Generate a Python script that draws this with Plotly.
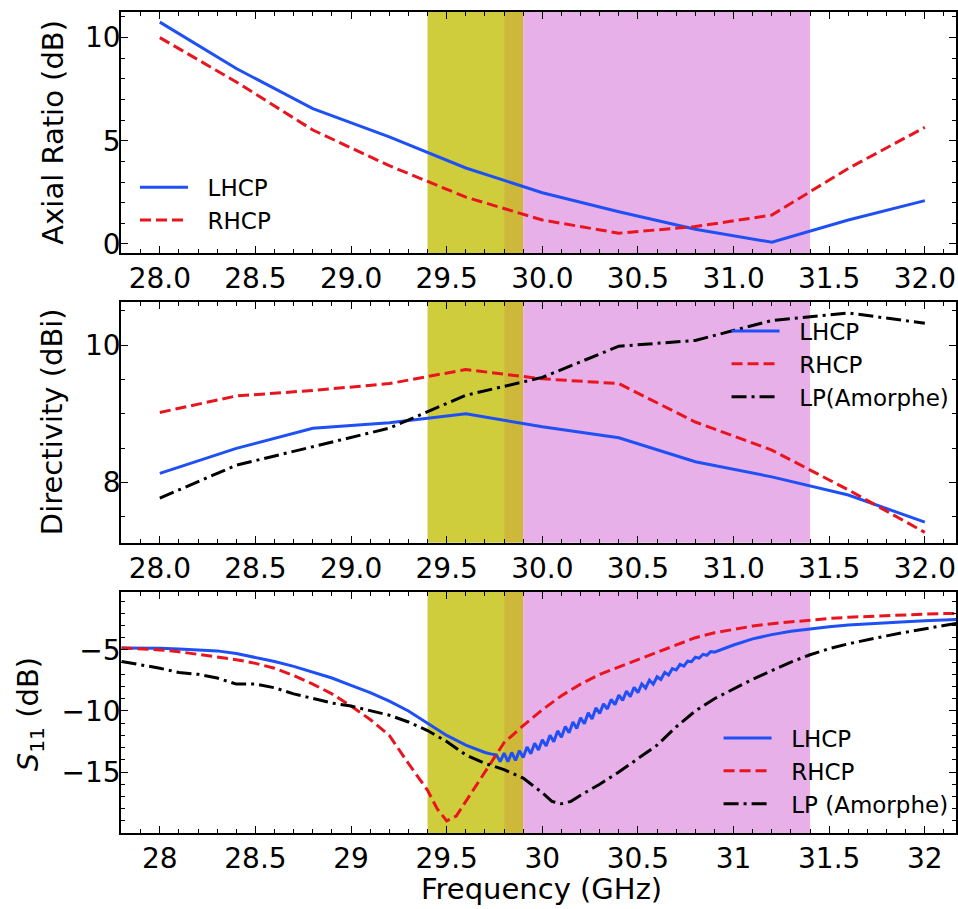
import plotly.graph_objects as go

# ---------------- data ----------------
freq_coarse = [28.0, 28.4, 28.8, 29.2, 29.6, 30.0, 30.4, 30.8, 31.2, 31.6, 32.0]

ar_lhcp = [10.75, 8.5, 6.56, 5.19, 3.68, 2.48, 1.56, 0.71, 0.08, 1.16, 2.1]
ar_rhcp = [10.0, 7.85, 5.52, 3.79, 2.27, 1.16, 0.52, 0.84, 1.4, 3.66, 5.65]

dir_lhcp = [8.13, 8.495, 8.79, 8.87, 9.0, 8.81, 8.65, 8.30, 8.08, 7.815, 7.42]
dir_rhcp = [9.02, 9.26, 9.34, 9.44, 9.645, 9.51, 9.44, 8.88, 8.47, 7.89, 7.27]
dir_lp = [7.77, 8.25, 8.52, 8.79, 9.27, 9.53, 9.985, 10.07, 10.36, 10.47, 10.32]

s11_freq_lhcp = [27.8, 27.9, 28.0, 28.1, 28.2, 28.3, 28.4, 28.5, 28.6, 28.7, 28.8, 28.9,
                 29.0, 29.1, 29.2, 29.3, 29.4, 29.5, 29.6, 29.7, 29.74,
                 29.76, 29.78, 29.80, 29.82, 29.84, 29.86, 29.88, 29.90, 29.92, 29.94,
                 29.96, 29.98, 30.00, 30.02, 30.04, 30.06, 30.08, 30.10, 30.12, 30.14,
                 30.16, 30.18, 30.20, 30.22, 30.24, 30.26, 30.28, 30.30, 30.32, 30.34,
                 30.36, 30.38, 30.40, 30.42, 30.44, 30.46, 30.48, 30.50, 30.52, 30.54,
                 30.56, 30.58, 30.60, 30.62, 30.64, 30.66, 30.68, 30.70, 30.72, 30.74,
                 30.76, 30.78, 30.80, 30.82, 30.84, 30.86, 30.88, 30.90,
                 31.0, 31.1, 31.2, 31.3, 31.4, 31.5, 31.6, 31.7, 31.8, 31.9, 32.0, 32.1, 32.2]
s11_lhcp = [-4.85, -4.85, -4.87, -4.92, -4.98, -5.08, -5.3, -5.6, -5.95, -6.35, -6.8, -7.3,
            -7.9, -8.5, -9.2, -10.0, -11.0, -12.0, -12.8, -13.4, -13.55,
            -13.6, -14.15, -13.45, -14.15, -13.4, -14.05, -13.25, -13.8, -12.95, -13.5,
            -12.65, -13.2, -12.35, -12.87, -11.99, -12.51, -11.63, -12.15, -11.27, -11.79,
            -10.91, -11.43, -10.55, -11.05, -10.15, -10.65, -9.75, -10.2, -9.42, -9.84,
            -9.06, -9.48, -8.7, -9.14, -8.38, -8.82, -8.06, -8.5, -7.79, -8.13,
            -7.47, -7.81, -7.2, -7.42, -6.84, -7.06, -6.53, -6.65, -6.19, -6.33,
            -5.92, -5.96, -5.6, -5.68, -5.36, -5.44, -5.14, -5.18,
            -4.6, -4.1, -3.75, -3.48, -3.27, -3.1, -2.97, -2.86, -2.77, -2.69, -2.61, -2.54, -2.48]

s11_freq_rhcp = [27.8, 27.9, 28.0, 28.1, 28.2, 28.3, 28.4, 28.5, 28.6, 28.7, 28.8, 28.9,
                 29.0, 29.1, 29.2, 29.3, 29.4, 29.45, 29.5, 29.55, 29.6, 29.7, 29.8, 29.9,
                 30.0, 30.1, 30.2, 30.3, 30.4, 30.5, 30.6, 30.7, 30.8, 30.9,
                 31.0, 31.1, 31.2, 31.3, 31.4, 31.5, 31.6, 31.7, 31.8, 31.9, 32.0, 32.1, 32.2]
s11_rhcp = [-4.85, -4.9, -5.0, -5.15, -5.35, -5.6, -5.8, -6.1, -6.5, -7.1, -7.8, -8.6,
            -9.6, -10.7, -12.0, -14.3, -16.5, -18.0, -19.0, -18.6, -17.4, -15.0, -12.6, -11.2,
            -9.9, -8.75, -7.8, -7.0, -6.4, -5.8, -5.2, -4.55, -4.0, -3.6,
            -3.3, -3.05, -2.85, -2.7, -2.55, -2.43, -2.33, -2.25, -2.18, -2.12, -2.07, -2.03, -2.0]

s11_freq_lp = [27.8, 27.9, 28.0, 28.1, 28.2, 28.3, 28.4, 28.5, 28.6, 28.7, 28.8, 28.9,
               29.0, 29.1, 29.2, 29.3, 29.4, 29.5, 29.6, 29.7, 29.8, 29.9, 30.0, 30.05,
               30.1, 30.15, 30.2, 30.3, 30.4, 30.5, 30.6, 30.7, 30.8, 30.9,
               31.0, 31.1, 31.2, 31.3, 31.4, 31.5, 31.6, 31.7, 31.8, 31.9, 32.0, 32.1, 32.2]
s11_lp = [-5.95, -6.2, -6.5, -6.85, -7.0, -7.3, -7.8, -7.8, -8.1, -8.6, -9.0, -9.35,
          -9.6, -9.95, -10.35, -10.9, -11.6, -12.5, -13.6, -14.3, -14.8, -15.5, -16.7, -17.4,
          -17.6, -17.4, -16.9, -16.0, -15.0, -13.9, -12.8, -11.3, -10.0, -9.0,
          -8.2, -7.4, -6.7, -6.0, -5.4, -4.9, -4.5, -4.15, -3.85, -3.55, -3.25, -3.0, -2.75]

band_yellow = [29.4, 29.8]
band_overlap = [29.8, 29.9]
band_pink = [29.9, 31.4]

x_tickvals = [28.0, 28.5, 29.0, 29.5, 30.0, 30.5, 31.0, 31.5, 32.0]
x_ticktext_top = ["28.0", "28.5", "29.0", "29.5", "30.0", "30.5", "31.0", "31.5", "32.0"]
x_ticktext_bottom = ["28", "28.5", "29", "29.5", "30", "30.5", "31", "31.5", "32"]
ar_ticks = [0, 5, 10]
dir_ticks = [8, 10]
s11_ticks = [-15, -10, -5]

# ---------------- style ----------------
FONT = "DejaVu Sans"
BLUE = "#1f50f5"
RED = "#e8141e"
BLACK = "#000000"
W, H = 958, 909
TOP, BOT = 12, 833
PH = BOT - TOP
LEFT = 121
PW = W - LEFT
NB = "\u00a0\u00a0"  # spacing between legend sample and label


def ydom(top_px, bot_px):
    return [(BOT - bot_px) / PH, (BOT - top_px) / PH]


fig = go.Figure()

solid = dict(color=BLUE, width=3)
dashed = dict(color=RED, width=3, dash="11px,5px")
dashdot = dict(color=BLACK, width=3, dash="15px,5px,3px,5px")

# panel 1
fig.add_trace(go.Scatter(x=freq_coarse, y=ar_lhcp, mode="lines", name=NB + "LHCP", line=solid,
                         xaxis="x", yaxis="y", legend="legend"))
fig.add_trace(go.Scatter(x=freq_coarse, y=ar_rhcp, mode="lines", name=NB + "RHCP", line=dashed,
                         xaxis="x", yaxis="y", legend="legend"))
# panel 2
fig.add_trace(go.Scatter(x=freq_coarse, y=dir_lhcp, mode="lines", name=NB + "LHCP", line=solid,
                         xaxis="x2", yaxis="y2", legend="legend2"))
fig.add_trace(go.Scatter(x=freq_coarse, y=dir_rhcp, mode="lines", name=NB + "RHCP", line=dashed,
                         xaxis="x2", yaxis="y2", legend="legend2"))
fig.add_trace(go.Scatter(x=freq_coarse, y=dir_lp, mode="lines", name=NB + "LP(Amorphe)", line=dashdot,
                         xaxis="x2", yaxis="y2", legend="legend2"))
# panel 3
fig.add_trace(go.Scatter(x=s11_freq_lhcp, y=s11_lhcp, mode="lines", name=NB + "LHCP", line=solid,
                         xaxis="x3", yaxis="y3", legend="legend3"))
fig.add_trace(go.Scatter(x=s11_freq_rhcp, y=s11_rhcp, mode="lines", name=NB + "RHCP", line=dashed,
                         xaxis="x3", yaxis="y3", legend="legend3"))
fig.add_trace(go.Scatter(x=s11_freq_lp, y=s11_lp, mode="lines", name=NB + "LP (Amorphe)", line=dashdot,
                         xaxis="x3", yaxis="y3", legend="legend3"))

# shaded bands
shapes = []
for xr, yr in [("x", "y"), ("x2", "y2"), ("x3", "y3")]:
    for band, col in [(band_yellow, "#cfcd3c"), (band_overlap, "#cdb83a"), (band_pink, "#e8b0e8")]:
        shapes.append(dict(type="rect", xref=xr, yref=yr + " domain", x0=band[0], x1=band[1],
                           y0=0, y1=1, fillcolor=col, line=dict(width=0), layer="below"))

XR = [27.797, 32.163]


def xaxis(dom_anchor, ticktext):
    return dict(domain=[0, 1], anchor=dom_anchor, range=XR, showline=True, linecolor="black",
                linewidth=1.5, mirror="ticks", ticks="inside", ticklen=7, tickwidth=1.3,
                tickcolor="black", tickmode="array", tickvals=x_tickvals, ticktext=ticktext,
                minor=dict(ticks="inside", tickmode="linear", tick0=28.0, dtick=0.1, ticklen=4,
                           tickwidth=1.1, tickcolor="black"),
                showgrid=False, zeroline=False,
                tickfont=dict(family=FONT, size=28, color="black"))


def yaxis(dom, anchor, rng, tickvals, minor_dtick, minor_tick0):
    return dict(domain=dom, anchor=anchor, range=rng, showline=True, linecolor="black",
                linewidth=1.5, mirror="ticks", ticks="inside", ticklen=7, tickwidth=1.3,
                tickcolor="black", tickmode="array", tickvals=tickvals,
                minor=dict(ticks="inside", tickmode="linear", tick0=minor_tick0, dtick=minor_dtick,
                           ticklen=4, tickwidth=1.1, tickcolor="black"),
                showgrid=False, zeroline=False, ticklabelstandoff=-7,
                tickfont=dict(family=FONT, size=28, color="black"))


def legend(x_px, y_px):
    return dict(x=(x_px - LEFT) / PW, y=(BOT - y_px) / PH, xanchor="left", yanchor="middle",
                bgcolor="rgba(0,0,0,0)", borderwidth=0,
                font=dict(family=FONT, size=23, color="black"),
                tracegroupgap=0, itemwidth=48)


annotations = [
    dict(text="Axial Ratio (dB)", x=52, y=132.5, textangle=-90),
    dict(text="Directivity (dBi)", x=52, y=422, textangle=-90),
    dict(text="<i>S</i><sub>11</sub> (dB)", x=30, y=714, textangle=-90),
    dict(text="Frequency (GHz)", x=543, y=889, textangle=0),
]
ann_list = []
for a in annotations:
    ann_list.append(dict(text=a["text"], xref="paper", yref="paper",
                         x=(a["x"] - LEFT) / PW, y=(BOT - a["y"]) / PH,
                         xanchor="center", yanchor="middle", showarrow=False,
                         textangle=a["textangle"],
                         font=dict(family=FONT, size=29, color="black")))

fig.update_layout(
    width=W, height=H,
    margin=dict(l=LEFT, r=0, t=TOP, b=H - BOT),
    paper_bgcolor="white", plot_bgcolor="white",
    font=dict(family=FONT, color="black"),
    xaxis=xaxis("y", x_ticktext_top),
    xaxis2=xaxis("y2", x_ticktext_top),
    xaxis3=xaxis("y3", x_ticktext_bottom),
    yaxis=yaxis(ydom(12, 253), "x", [-0.44, 11.24], ar_ticks, 1, 0),
    yaxis2=yaxis(ydom(302, 542.7), "x2", [7.12, 10.63], dir_ticks, 0.5, 7.5),
    yaxis3=yaxis(ydom(592, 833), "x3", [-19.99, -0.26], s11_ticks, 1, -20),
    legend=legend(135, 203.7), legend2=legend(728, 364), legend3=legend(720, 771),
    shapes=shapes,
    annotations=ann_list,
    showlegend=True,
)

fig.write_html("out.html", config={"displayModeBar": False},
               post_script="document.body.style.margin='0px';document.body.style.overflow='hidden';")
